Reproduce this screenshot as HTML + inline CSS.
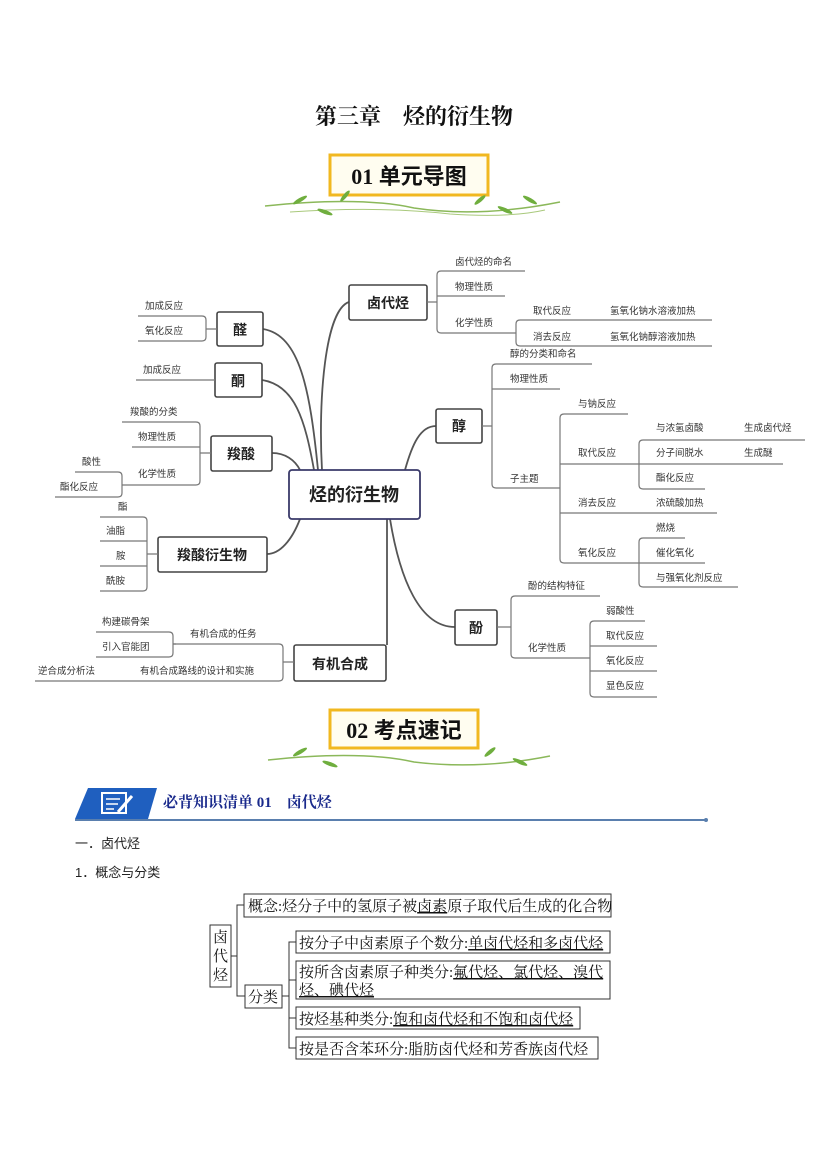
<!DOCTYPE html>
<html><head><meta charset="utf-8"><style>
html,body{margin:0;padding:0;background:#fff;}
svg{display:block;}
.s{font-family:"Liberation Sans","Noto Sans CJK SC",sans-serif;font-size:9.5px;fill:#333;}
.b{font-family:"Liberation Sans","Noto Sans CJK SC",sans-serif;font-size:14px;font-weight:bold;fill:#222;}
.sf{font-family:"Liberation Serif","Noto Serif CJK SC",serif;fill:#111;}
.ln{stroke:#777;stroke-width:1.2;fill:none;}
.bx{fill:#fff;stroke:#444;stroke-width:1.6;}
.c{stroke:#555;stroke-width:1.8;fill:none;}
.t{stroke:#333;stroke-width:1;fill:none;}
</style></head><body>
<svg width="827" height="1169" viewBox="0 0 827 1169" xmlns="http://www.w3.org/2000/svg">
<text x="414" y="124" text-anchor="middle" class="sf" style="font-size:22px;font-weight:bold">第三章　烃的衍生物</text>
<g>
<path d="M265 206 Q360 196 414 208 Q480 218 560 202" stroke="#8bb85a" stroke-width="1.5" fill="none"/>
<path d="M290 212 Q380 206 450 214 Q510 218 545 210" stroke="#a9c97c" stroke-width="1" fill="none"/>
<rect x="330" y="155" width="158" height="40" fill="#fffdf0" stroke="#f1b820" stroke-width="3"/>
<text x="409" y="184" text-anchor="middle" style="font-family:'Liberation Serif','Noto Sans CJK SC',sans-serif;font-size:22px;font-weight:bold;fill:#111">01 单元导图</text>
<g fill="#6fae3e">
<ellipse cx="300" cy="200" rx="8" ry="2" transform="rotate(-30 300 200)"/>
<ellipse cx="325" cy="212" rx="8" ry="2" transform="rotate(20 325 212)"/>
<ellipse cx="345" cy="196" rx="7" ry="2" transform="rotate(-50 345 196)"/>
<ellipse cx="480" cy="200" rx="7" ry="2" transform="rotate(-40 480 200)"/>
<ellipse cx="505" cy="210" rx="8" ry="2" transform="rotate(25 505 210)"/>
<ellipse cx="530" cy="200" rx="8" ry="2" transform="rotate(30 530 200)"/>
</g>
</g>

<path class="c" d="M322 470 C318 400 325 310 349 302"/>
<path class="c" d="M318 470 C310 390 300 335 263 329"/>
<path class="c" d="M314 470 C305 420 295 385 262 380"/>
<path class="c" d="M300 470 C295 460 285 453 272 453"/>
<path class="c" d="M300 519 C292 540 280 554 267 554"/>
<path class="c" d="M387 519 L387 645"/>
<path class="c" d="M405 470 C412 445 420 426 436 426"/>
<path class="c" d="M390 519 C400 580 420 627 455 627"/>

<rect x="289" y="470" width="131" height="49" rx="3" fill="#fff" stroke="#3a3a6a" stroke-width="1.8"/>
<text x="354" y="501" text-anchor="middle" class="b" style="font-size:18px">烃的衍生物</text>

<rect class="bx" x="349" y="285" width="78" height="35" rx="2"/>
<text x="388" y="308" text-anchor="middle" class="b">卤代烃</text>
<path class="ln" d="M427 302 H437 M525 271 H441 Q437 271 437 275 V329 Q437 333 441 333 H515 M437 296 H505"/>
<text x="455" y="265" class="s">卤代烃的命名</text>
<text x="455" y="290" class="s">物理性质</text>
<text x="455" y="326" class="s">化学性质</text>
<path class="ln" d="M712 320 H520 Q516 320 516 324 V342 Q516 346 520 346 H712 M515 333 H516"/>
<text x="533" y="314" class="s">取代反应</text>
<text x="533" y="340" class="s">消去反应</text>
<text x="610" y="314" class="s">氢氧化钠水溶液加热</text>
<text x="610" y="340" class="s">氢氧化钠醇溶液加热</text>

<rect class="bx" x="436" y="409" width="46" height="34" rx="2"/>
<text x="459" y="431" text-anchor="middle" class="b">醇</text>
<path class="ln" d="M482 426 H492 M592 364 H496 Q492 364 492 368 V484 Q492 488 496 488 H560 M492 389 H560"/>
<text x="510" y="357" class="s">醇的分类和命名</text>
<text x="510" y="382" class="s">物理性质</text>
<text x="510" y="482" class="s">子主题</text>
<path class="ln" d="M628 414 H564 Q560 414 560 418 V559 Q560 563 564 563 H705 M560 464 H783 M560 513 H717"/>
<text x="578" y="407" class="s">与钠反应</text>
<text x="578" y="456" class="s">取代反应</text>
<text x="578" y="506" class="s">消去反应</text>
<text x="578" y="556" class="s">氧化反应</text>
<path class="ln" d="M805 440 H643 Q639 440 639 444 V485 Q639 489 643 489 H705"/>
<text x="656" y="431" class="s">与浓氢卤酸</text>
<text x="656" y="456" class="s">分子间脱水</text>
<text x="656" y="481" class="s">酯化反应</text>
<text x="744" y="431" class="s">生成卤代烃</text>
<text x="744" y="456" class="s">生成醚</text>
<text x="656" y="506" class="s">浓硫酸加热</text>
<path class="ln" d="M685 538 H643 Q639 538 639 542 V583 Q639 587 643 587 H738"/>
<text x="656" y="531" class="s">燃烧</text>
<text x="656" y="556" class="s">催化氧化</text>
<text x="656" y="581" class="s">与强氧化剂反应</text>

<rect class="bx" x="455" y="610" width="42" height="35" rx="2"/>
<text x="476" y="633" text-anchor="middle" class="b">酚</text>
<path class="ln" d="M497 627 H511 M600 596 H515 Q511 596 511 600 V654 Q511 658 515 658 H590"/>
<text x="528" y="589" class="s">酚的结构特征</text>
<text x="528" y="651" class="s">化学性质</text>
<path class="ln" d="M645 621 H594 Q590 621 590 625 V693 Q590 697 594 697 H657 M590 646 H657 M590 671 H657"/>
<text x="606" y="614" class="s">弱酸性</text>
<text x="606" y="639" class="s">取代反应</text>
<text x="606" y="664" class="s">氧化反应</text>
<text x="606" y="689" class="s">显色反应</text>

<rect class="bx" x="217" y="312" width="46" height="34" rx="2"/>
<text x="240" y="335" text-anchor="middle" class="b">醛</text>
<path class="ln" d="M217 329 H206 M138 316 H202 Q206 316 206 320 V337 Q206 341 202 341 H138"/>
<text x="145" y="309" class="s">加成反应</text>
<text x="145" y="334" class="s">氧化反应</text>

<rect class="bx" x="215" y="363" width="47" height="34" rx="2"/>
<text x="238" y="386" text-anchor="middle" class="b">酮</text>
<path class="ln" d="M136 380 H215"/>
<text x="143" y="373" class="s">加成反应</text>

<rect class="bx" x="211" y="436" width="61" height="35" rx="2"/>
<text x="241" y="459" text-anchor="middle" class="b">羧酸</text>
<path class="ln" d="M211 453 H200 M122 422 H196 Q200 422 200 426 V481 Q200 485 196 485 H122 M132 447 H200"/>
<text x="130" y="415" class="s">羧酸的分类</text>
<text x="138" y="440" class="s">物理性质</text>
<text x="138" y="477" class="s">化学性质</text>
<path class="ln" d="M75 472 H118 Q122 472 122 476 V493 Q122 497 118 497 H55"/>
<text x="82" y="465" class="s">酸性</text>
<text x="60" y="490" class="s">酯化反应</text>

<rect class="bx" x="158" y="537" width="109" height="35" rx="2"/>
<text x="212" y="560" text-anchor="middle" class="b">羧酸衍生物</text>
<path class="ln" d="M158 554 H147 M100 517 H143 Q147 517 147 521 V587 Q147 591 143 591 H100 M100 541 H147 M100 566 H147"/>
<text x="118" y="510" class="s">酯</text>
<text x="106" y="534" class="s">油脂</text>
<text x="116" y="559" class="s">胺</text>
<text x="106" y="584" class="s">酰胺</text>

<rect class="bx" x="294" y="645" width="92" height="36" rx="2"/>
<text x="340" y="669" text-anchor="middle" class="b">有机合成</text>
<path class="ln" d="M294 662 H283 M173 644 H279 Q283 644 283 648 V677 Q283 681 279 681 H35"/>
<text x="190" y="637" class="s">有机合成的任务</text>
<text x="140" y="674" class="s">有机合成路线的设计和实施</text>
<text x="38" y="674" class="s">逆合成分析法</text>
<path class="ln" d="M96 632 H169 Q173 632 173 636 V653 Q173 657 169 657 H96 M173 644 H176"/>
<text x="102" y="625" class="s">构建碳骨架</text>
<text x="102" y="650" class="s">引入官能团</text>

<g>
<path d="M268 760 Q360 750 414 762 Q480 770 550 756" stroke="#8bb85a" stroke-width="1.5" fill="none"/>
<rect x="330" y="710" width="148" height="38" fill="#fffdf0" stroke="#f1b820" stroke-width="3"/>
<text x="404" y="738" text-anchor="middle" style="font-family:'Liberation Serif','Noto Sans CJK SC',sans-serif;font-size:22px;font-weight:bold;fill:#111">02 考点速记</text>
<g fill="#6fae3e">
<ellipse cx="300" cy="752" rx="8" ry="2" transform="rotate(-30 300 752)"/>
<ellipse cx="330" cy="764" rx="8" ry="2" transform="rotate(20 330 764)"/>
<ellipse cx="490" cy="752" rx="7" ry="2" transform="rotate(-40 490 752)"/>
<ellipse cx="520" cy="762" rx="8" ry="2" transform="rotate(25 520 762)"/>
</g>
</g>

<path d="M88 788 H157 L148 819 H75 Z" fill="#1f5fbf"/>
<rect x="102" y="793" width="24" height="20" fill="none" stroke="#fff" stroke-width="2"/>
<path d="M106 799 H120 M106 804 H118 M106 809 H114" stroke="#fff" stroke-width="1.5"/>
<path d="M118 812 L132 796" stroke="#fff" stroke-width="3"/>
<text x="163" y="807" style="font-family:'Liberation Serif','Noto Serif CJK SC',serif;font-size:15px;font-weight:bold;fill:#1a2a8c">必背知识清单 01　卤代烃</text>
<line x1="75" y1="820" x2="706" y2="820" stroke="#5a7fae" stroke-width="2"/>
<circle cx="706" cy="820" r="2" fill="#5a7fae"/>
<text x="75" y="848" class="s" style="font-size:13px;fill:#222">一．卤代烃</text>
<text x="75" y="877" class="s" style="font-size:13px;fill:#222">1．概念与分类</text>

<rect class="t" x="210" y="925" width="21" height="62"/>
<text x="220.5" y="942" text-anchor="middle" class="sf" style="font-size:15px">卤</text>
<text x="220.5" y="961" text-anchor="middle" class="sf" style="font-size:15px">代</text>
<text x="220.5" y="980" text-anchor="middle" class="sf" style="font-size:15px">烃</text>
<path class="t" d="M231 956 H237 M244 905 H237 V996 H245"/>
<rect class="t" x="244" y="894" width="367" height="23"/>
<text x="248" y="911" class="sf" style="font-size:15px">概念:烃分子中的氢原子被<tspan text-decoration="underline">卤素</tspan>原子取代后生成的化合物</text>
<rect class="t" x="245" y="985" width="37" height="23"/>
<text x="248" y="1002" class="sf" style="font-size:15px">分类</text>
<path class="t" d="M282 996 H289 M296 942 H289 V1048 H296 M289 980 H296 M289 1018 H296"/>
<rect class="t" x="296" y="931" width="314" height="22"/>
<text x="299" y="948" class="sf" style="font-size:15px">按分子中卤素原子个数分:<tspan text-decoration="underline">单卤代烃和多卤代烃</tspan></text>
<rect class="t" x="296" y="961" width="314" height="38"/>
<text x="299" y="977" class="sf" style="font-size:15px">按所含卤素原子种类分:<tspan text-decoration="underline">氟代烃、氯代烃、溴代</tspan></text>
<text x="299" y="995" class="sf" style="font-size:15px"><tspan text-decoration="underline">烃、碘代烃</tspan></text>
<rect class="t" x="296" y="1007" width="284" height="22"/>
<text x="299" y="1024" class="sf" style="font-size:15px">按烃基种类分:<tspan text-decoration="underline">饱和卤代烃和不饱和卤代烃</tspan></text>
<rect class="t" x="296" y="1037" width="302" height="22"/>
<text x="299" y="1054" class="sf" style="font-size:15px">按是否含苯环分:脂肪卤代烃和芳香族卤代烃</text>
</svg>
</body></html>
